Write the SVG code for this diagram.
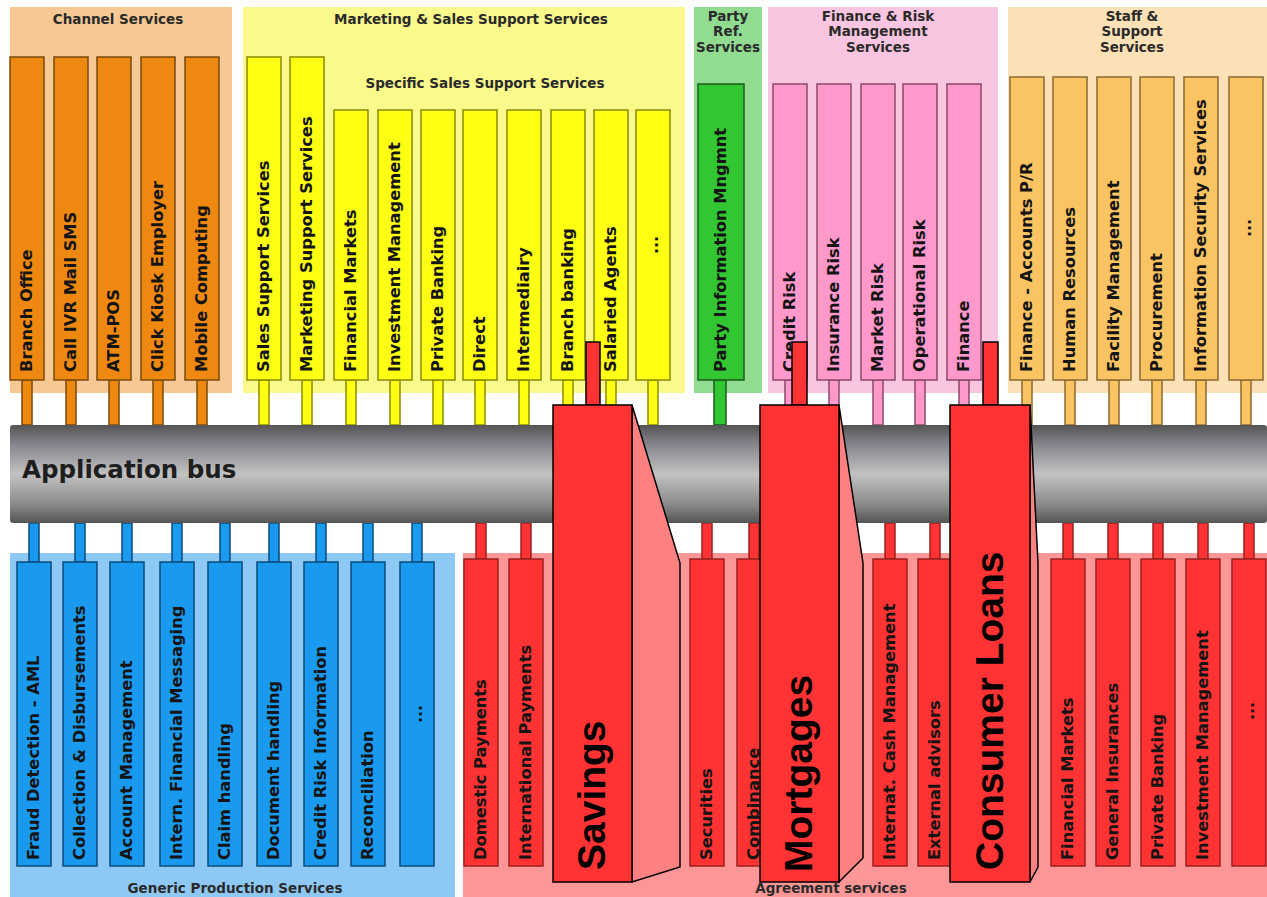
<svg xmlns="http://www.w3.org/2000/svg" width="1267" height="897" viewBox="0 0 1267 897">
<defs>
<linearGradient id="busg" x1="0" y1="0" x2="0" y2="1">
<stop offset="0" stop-color="#555"/>
<stop offset="0.18" stop-color="#818189"/>
<stop offset="0.5" stop-color="#c2c2c2"/>
<stop offset="0.8" stop-color="#8c8c8c"/>
<stop offset="1" stop-color="#555"/>
</linearGradient>
</defs>
<style>
.t{font-family:"DejaVu Sans",Verdana,sans-serif;font-weight:bold;font-size:16.3px;fill:#141414}
.d{font-family:"DejaVu Sans",Verdana,sans-serif;font-weight:bold;font-size:16px;fill:#141414;text-anchor:middle}
.h{font-family:"DejaVu Sans",Verdana,sans-serif;font-weight:bold;font-size:13.5px;fill:#2a2a2a;text-anchor:middle}
.big{font-family:"Liberation Sans",Arial,sans-serif;font-weight:bold;font-size:39px;fill:#000}
.or{fill:#ee8811;stroke:#7a4a0a;stroke-width:1.5}
.ye{fill:#ffff14;stroke:#8a8a00;stroke-width:1.5}
.gr{fill:#33c633;stroke:#1a5a1a;stroke-width:1.5}
.pk{fill:#ff99cc;stroke:#8a4a6a;stroke-width:1.5}
.st{fill:#fbc462;stroke:#8a6a30;stroke-width:1.5}
.bl{fill:#1a9aee;stroke:#0a4a7a;stroke-width:1.5}
.rd{fill:#ff3333;stroke:#992222;stroke-width:1.5}
.front{fill:#ff3333;stroke:#000;stroke-width:1.5}
.side{fill:#ff8080;stroke:#000;stroke-width:1.5}
</style>
<rect width="1267" height="897" fill="#fff"/>

<g id="panels">
<rect x="10" y="7" width="222" height="386" fill="#f6c893"/>
<rect x="243" y="7" width="442" height="386" fill="#f9f98c"/>
<rect x="694" y="7" width="68" height="386" fill="#92dc92"/>
<rect x="768" y="7" width="230" height="386" fill="#fac5e0"/>
<rect x="1008" y="7" width="259" height="386" fill="#fbe1b5"/>
<rect x="10" y="553" width="445" height="344" fill="#8ec9f5"/>
<rect x="463" y="553" width="804" height="344" fill="#fd9797"/>
<text class="h" x="118" y="24" font-size="12.5">Channel Services</text>
<text class="h" x="471" y="24">Marketing &amp; Sales Support Services</text>
<text class="h" x="485" y="88">Specific Sales Support Services</text>
<text class="h" x="728" y="21">Party</text>
<text class="h" x="728" y="36">Ref.</text>
<text class="h" x="728" y="52">Services</text>
<text class="h" x="878" y="21">Finance &amp; Risk</text>
<text class="h" x="878" y="36">Management</text>
<text class="h" x="878" y="52">Services</text>
<text class="h" x="1132" y="21">Staff &amp;</text>
<text class="h" x="1132" y="36">Support</text>
<text class="h" x="1132" y="52">Services</text>
<text class="h" x="235" y="893">Generic Production Services</text>
<text class="h" x="831" y="893">Agreement services</text>
</g>

<g id="connectors">
<rect class="or" x="22" y="380" width="10" height="45"/>
<rect class="or" x="66" y="380" width="10" height="45"/>
<rect class="or" x="109" y="380" width="10" height="45"/>
<rect class="or" x="153" y="380" width="10" height="45"/>
<rect class="or" x="197" y="380" width="10" height="45"/>
<rect class="ye" x="259" y="380" width="10" height="45"/>
<rect class="ye" x="302" y="380" width="10" height="45"/>
<rect class="ye" x="346" y="380" width="10" height="45"/>
<rect class="ye" x="390" y="380" width="10" height="45"/>
<rect class="ye" x="433" y="380" width="10" height="45"/>
<rect class="ye" x="475" y="380" width="10" height="45"/>
<rect class="ye" x="519" y="380" width="10" height="45"/>
<rect class="ye" x="563" y="380" width="10" height="45"/>
<rect class="ye" x="606" y="380" width="10" height="45"/>
<rect class="ye" x="648" y="380" width="10" height="45"/>
<rect class="gr" x="714" y="380" width="12" height="45"/>
<rect class="pk" x="785" y="380" width="10" height="45"/>
<rect class="pk" x="829" y="380" width="10" height="45"/>
<rect class="pk" x="873" y="380" width="10" height="45"/>
<rect class="pk" x="915" y="380" width="10" height="45"/>
<rect class="pk" x="959" y="380" width="10" height="45"/>
<rect class="st" x="1022" y="380" width="10" height="45"/>
<rect class="st" x="1065" y="380" width="10" height="45"/>
<rect class="st" x="1109" y="380" width="10" height="45"/>
<rect class="st" x="1152" y="380" width="10" height="45"/>
<rect class="st" x="1196" y="380" width="10" height="45"/>
<rect class="st" x="1241" y="380" width="10" height="45"/>
<rect class="bl" x="29" y="523" width="10" height="39"/>
<rect class="bl" x="75" y="523" width="10" height="39"/>
<rect class="bl" x="122" y="523" width="10" height="39"/>
<rect class="bl" x="172" y="523" width="10" height="39"/>
<rect class="bl" x="220" y="523" width="10" height="39"/>
<rect class="bl" x="269" y="523" width="10" height="39"/>
<rect class="bl" x="316" y="523" width="10" height="39"/>
<rect class="bl" x="363" y="523" width="10" height="39"/>
<rect class="bl" x="412" y="523" width="10" height="39"/>
<rect class="rd" x="476" y="523" width="10" height="36"/>
<rect class="rd" x="521" y="523" width="10" height="36"/>
<rect class="rd" x="702" y="523" width="10" height="36"/>
<rect class="rd" x="749" y="523" width="10" height="36"/>
<rect class="rd" x="885" y="523" width="10" height="36"/>
<rect class="rd" x="930" y="523" width="10" height="36"/>
<rect class="rd" x="1063" y="523" width="10" height="36"/>
<rect class="rd" x="1108" y="523" width="10" height="36"/>
<rect class="rd" x="1153" y="523" width="10" height="36"/>
<rect class="rd" x="1198" y="523" width="10" height="36"/>
<rect class="rd" x="1244" y="523" width="10" height="36"/>
</g>

<g id="application-bus">
<rect x="10" y="425" width="1257" height="98" rx="3" fill="url(#busg)"/>
<text x="22" y="478" font-family="DejaVu Sans, Verdana, sans-serif" font-weight="bold" font-size="24.5" fill="#1e1e1e">Application bus</text>
</g>

<g id="branch-office"><rect class="or" x="10" y="57" width="34" height="323"/><text class="t" transform="translate(32,372) rotate(-90)">Branch Office</text></g>
<g id="call-ivr"><rect class="or" x="54" y="57" width="34" height="323"/><text class="t" transform="translate(76,372) rotate(-90)">Call IVR Mail SMS</text></g>
<g id="atm-pos"><rect class="or" x="97" y="57" width="34" height="323"/><text class="t" transform="translate(119,372) rotate(-90)">ATM-POS</text></g>
<g id="click-kiosk"><rect class="or" x="141" y="57" width="34" height="323"/><text class="t" transform="translate(163,372) rotate(-90)">Click Kiosk Employer</text></g>
<g id="mobile-computing"><rect class="or" x="185" y="57" width="34" height="323"/><text class="t" transform="translate(207,372) rotate(-90)">Mobile Computing</text></g>

<g id="sales-support"><rect class="ye" x="247" y="57" width="34" height="323"/><text class="t" transform="translate(269,372) rotate(-90)">Sales Support Services</text></g>
<g id="marketing-support"><rect class="ye" x="290" y="57" width="34" height="323"/><text class="t" transform="translate(312,372) rotate(-90)">Marketing Support Services</text></g>
<g id="ss-financial-markets"><rect class="ye" x="334" y="110" width="34" height="270"/><text class="t" transform="translate(356,372) rotate(-90)">Financial Markets</text></g>
<g id="ss-investment-management"><rect class="ye" x="378" y="110" width="34" height="270"/><text class="t" transform="translate(400,372) rotate(-90)">Investment Management</text></g>
<g id="ss-private-banking"><rect class="ye" x="421" y="110" width="34" height="270"/><text class="t" transform="translate(443,372) rotate(-90)">Private Banking</text></g>
<g id="ss-direct"><rect class="ye" x="463" y="110" width="34" height="270"/><text class="t" transform="translate(485,372) rotate(-90)">Direct</text></g>
<g id="ss-intermediairy"><rect class="ye" x="507" y="110" width="34" height="270"/><text class="t" transform="translate(529,372) rotate(-90)">Intermediairy</text></g>
<g id="ss-branch-banking"><rect class="ye" x="551" y="110" width="34" height="270"/><text class="t" transform="translate(573,372) rotate(-90)">Branch banking</text></g>
<g id="ss-salaried-agents"><rect class="ye" x="594" y="110" width="34" height="270"/><text class="t" transform="translate(616,372) rotate(-90)">Salaried Agents</text></g>
<g id="ss-more"><rect class="ye" x="636" y="110" width="34" height="270"/><text class="d" transform="translate(658,245) rotate(-90)">...</text></g>

<g id="party-information"><rect class="gr" x="698" y="84" width="46" height="296"/><text class="t" transform="translate(726,372) rotate(-90)">Party Information Mngmnt</text></g>

<g id="credit-risk"><rect class="pk" x="773" y="84" width="34" height="296"/><text class="t" transform="translate(795,372) rotate(-90)">Credit Risk</text></g>
<g id="insurance-risk"><rect class="pk" x="817" y="84" width="34" height="296"/><text class="t" transform="translate(839,372) rotate(-90)">Insurance Risk</text></g>
<g id="market-risk"><rect class="pk" x="861" y="84" width="34" height="296"/><text class="t" transform="translate(883,372) rotate(-90)">Market Risk</text></g>
<g id="operational-risk"><rect class="pk" x="903" y="84" width="34" height="296"/><text class="t" transform="translate(925,372) rotate(-90)">Operational Risk</text></g>
<g id="finance"><rect class="pk" x="947" y="84" width="34" height="296"/><text class="t" transform="translate(969,372) rotate(-90)">Finance</text></g>

<g id="accounts-pr"><rect class="st" x="1010" y="77" width="34" height="303"/><text class="t" transform="translate(1032,372) rotate(-90)">Finance - Accounts P/R</text></g>
<g id="human-resources"><rect class="st" x="1053" y="77" width="34" height="303"/><text class="t" transform="translate(1075,372) rotate(-90)">Human Resources</text></g>
<g id="facility-management"><rect class="st" x="1097" y="77" width="34" height="303"/><text class="t" transform="translate(1119,372) rotate(-90)">Facility Management</text></g>
<g id="procurement"><rect class="st" x="1140" y="77" width="34" height="303"/><text class="t" transform="translate(1162,372) rotate(-90)">Procurement</text></g>
<g id="information-security"><rect class="st" x="1184" y="77" width="34" height="303"/><text class="t" transform="translate(1206,372) rotate(-90)">Information Security Services</text></g>
<g id="staff-more"><rect class="st" x="1229" y="77" width="34" height="303"/><text class="d" transform="translate(1251,228) rotate(-90)">...</text></g>

<g id="fraud-detection"><rect class="bl" x="17" y="562" width="34" height="304"/><text class="t" transform="translate(39,860) rotate(-90)">Fraud Detection - AML</text></g>
<g id="collection"><rect class="bl" x="63" y="562" width="34" height="304"/><text class="t" transform="translate(85,860) rotate(-90)">Collection &amp; Disbursements</text></g>
<g id="account-management"><rect class="bl" x="110" y="562" width="34" height="304"/><text class="t" transform="translate(132,860) rotate(-90)">Account Management</text></g>
<g id="financial-messaging"><rect class="bl" x="160" y="562" width="34" height="304"/><text class="t" transform="translate(182,860) rotate(-90)">Intern. Financial Messaging</text></g>
<g id="claim-handling"><rect class="bl" x="208" y="562" width="34" height="304"/><text class="t" transform="translate(230,860) rotate(-90)">Claim handling</text></g>
<g id="document-handling"><rect class="bl" x="257" y="562" width="34" height="304"/><text class="t" transform="translate(279,860) rotate(-90)">Document handling</text></g>
<g id="credit-risk-information"><rect class="bl" x="304" y="562" width="34" height="304"/><text class="t" transform="translate(326,860) rotate(-90)">Credit Risk Information</text></g>
<g id="reconciliation"><rect class="bl" x="351" y="562" width="34" height="304"/><text class="t" transform="translate(373,860) rotate(-90)">Reconciliation</text></g>
<g id="generic-more"><rect class="bl" x="400" y="562" width="34" height="304"/><text class="d" transform="translate(422,714) rotate(-90)">...</text></g>

<g id="domestic-payments"><rect class="rd" x="464" y="559" width="34" height="307"/><text class="t" transform="translate(486,860) rotate(-90)">Domestic Payments</text></g>
<g id="international-payments"><rect class="rd" x="509" y="559" width="34" height="307"/><text class="t" transform="translate(531,860) rotate(-90)">International Payments</text></g>
<g id="securities"><rect class="rd" x="690" y="559" width="34" height="307"/><text class="t" transform="translate(712,860) rotate(-90)">Securities</text></g>
<g id="combinance"><rect class="rd" x="737" y="559" width="34" height="307"/><text class="t" transform="translate(759,860) rotate(-90)">Combinance</text></g>
<g id="cash-management"><rect class="rd" x="873" y="559" width="34" height="307"/><text class="t" transform="translate(895,860) rotate(-90)">Internat. Cash Management</text></g>
<g id="external-advisors"><rect class="rd" x="918" y="559" width="34" height="307"/><text class="t" transform="translate(940,860) rotate(-90)">External advisors</text></g>
<g id="ag-financial-markets"><rect class="rd" x="1051" y="559" width="34" height="307"/><text class="t" transform="translate(1073,860) rotate(-90)">Financial Markets</text></g>
<g id="general-insurances"><rect class="rd" x="1096" y="559" width="34" height="307"/><text class="t" transform="translate(1118,860) rotate(-90)">General Insurances</text></g>
<g id="ag-private-banking"><rect class="rd" x="1141" y="559" width="34" height="307"/><text class="t" transform="translate(1163,860) rotate(-90)">Private Banking</text></g>
<g id="ag-investment-management"><rect class="rd" x="1186" y="559" width="34" height="307"/><text class="t" transform="translate(1208,860) rotate(-90)">Investment Management</text></g>
<g id="agreement-more"><rect class="rd" x="1232" y="559" width="34" height="307"/><text class="d" transform="translate(1254,711) rotate(-90)">...</text></g>

<g id="savings">
<rect class="front" x="586" y="342" width="14" height="63"/>
<polygon class="side" points="632,405 680,563 680,867 632,882"/>
<rect class="front" x="553" y="405" width="79" height="477"/>
<text class="big" transform="translate(605,870) rotate(-90)">Savings</text>
</g>
<g id="mortgages">
<rect class="front" x="792" y="342" width="15" height="63"/>
<polygon class="side" points="839,405 863,563 863,858 839,882"/>
<rect class="front" x="760" y="405" width="79" height="477"/>
<text class="big" transform="translate(812,872) rotate(-90)">Mortgages</text>
</g>
<g id="consumer-loans">
<rect class="front" x="983" y="342" width="15" height="63"/>
<polygon class="side" points="1030,405 1038,563 1038,867 1030,882"/>
<rect class="front" x="950" y="405" width="80" height="477"/>
<text class="big" transform="translate(1003,870) rotate(-90)">Consumer Loans</text>
</g>
</svg>
